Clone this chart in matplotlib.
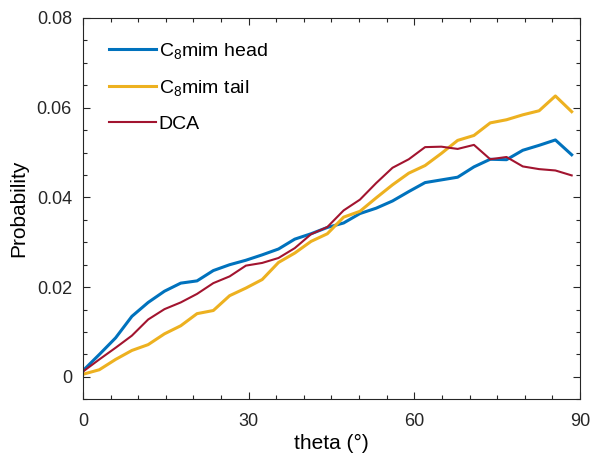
import matplotlib
matplotlib.use("Agg")
import matplotlib.pyplot as plt
from matplotlib.ticker import MultipleLocator

plt.rcParams['font.family'] = ['Liberation Sans', 'DejaVu Sans']
plt.rcParams['mathtext.fontset'] = 'custom'
plt.rcParams['mathtext.rm'] = 'Liberation Sans'
plt.rcParams['mathtext.it'] = 'Liberation Sans:italic'

# theta bins (degrees)
theta = [0.0, 2.95, 5.9, 8.85, 11.8, 14.75, 17.7, 20.65, 23.6, 26.55,
         29.5, 32.45, 35.4, 38.35, 41.3, 44.25, 47.2, 50.15, 53.1, 56.05,
         59.0, 61.95, 64.9, 67.85, 70.8, 73.75, 76.7, 79.65, 82.6, 85.55, 88.5]

head = [0.0014, 0.0050, 0.0087, 0.0135, 0.0166, 0.0191, 0.0209, 0.0214, 0.0237, 0.0250,
        0.0260, 0.0272, 0.0285, 0.0307, 0.0319, 0.0333, 0.0343, 0.0364, 0.0376, 0.0392,
        0.0413, 0.0433, 0.0439, 0.0445, 0.0468, 0.0485, 0.0484, 0.0505, 0.0516, 0.0528, 0.0495]

tail = [0.0006, 0.0016, 0.0039, 0.0059, 0.0072, 0.0096, 0.0114, 0.0141, 0.0148, 0.0181,
        0.0198, 0.0217, 0.0255, 0.0276, 0.0302, 0.0319, 0.0356, 0.0369, 0.0399, 0.0428,
        0.0454, 0.0471, 0.0498, 0.0527, 0.0538, 0.0566, 0.0573, 0.0584, 0.0593, 0.0626, 0.0591]

dca = [0.0012, 0.0039, 0.0065, 0.0092, 0.0128, 0.0151, 0.0166, 0.0185, 0.0209, 0.0224,
       0.0248, 0.0254, 0.0265, 0.0287, 0.0318, 0.0334, 0.0371, 0.0395, 0.0432, 0.0466,
       0.0485, 0.0512, 0.0513, 0.0508, 0.0517, 0.0485, 0.0490, 0.0469, 0.0463, 0.0460, 0.0449]

labels = ['C$_8$mim head', 'C$_8$mim tail', 'DCA']
colors = ['#0072BD', '#EDB120', '#A2142F']
widths = [2.2, 2.2, 1.5]

fig = plt.figure(figsize=(5.93, 4.58), dpi=100)
ax = fig.add_axes([0.140, 0.128, 0.838, 0.833])

for y, lab, c, w in zip([head, tail, dca], labels, colors, widths):
    ax.plot(theta, y, color=c, lw=w, label=lab)

ax.set_xlim(0, 90)
ax.set_ylim(-0.005, 0.08)
ax.set_xticks([0, 30, 60, 90])
ax.set_yticks([0, 0.02, 0.04, 0.06, 0.08])
ax.set_yticklabels(['0', '0.02', '0.04', '0.06', '0.08'])
ax.xaxis.set_minor_locator(MultipleLocator(5))
ax.yaxis.set_minor_locator(MultipleLocator(0.005))
ax.tick_params(which='both', direction='in', top=True, right=True,
               color='#262626', labelcolor='#262626', labelsize=13)
ax.tick_params(which='major', length=5, width=0.8, pad=8)
ax.tick_params(axis='x', which='major', pad=10)
ax.tick_params(which='minor', length=3, width=0.8)
for s in ax.spines.values():
    s.set_color('#262626')
    s.set_linewidth(0.8)

ax.set_xlabel('theta (\u00b0)', fontsize=15, labelpad=3)
ax.set_ylabel('Probability', fontsize=15, labelpad=6)

ax.legend(loc='upper left', frameon=False, fontsize=14, handlelength=2.4,
          handletextpad=0.15, labelspacing=0.88, borderaxespad=0.6,
          bbox_to_anchor=(0.013, 0.99))

fig.savefig('out.png', dpi=100)
